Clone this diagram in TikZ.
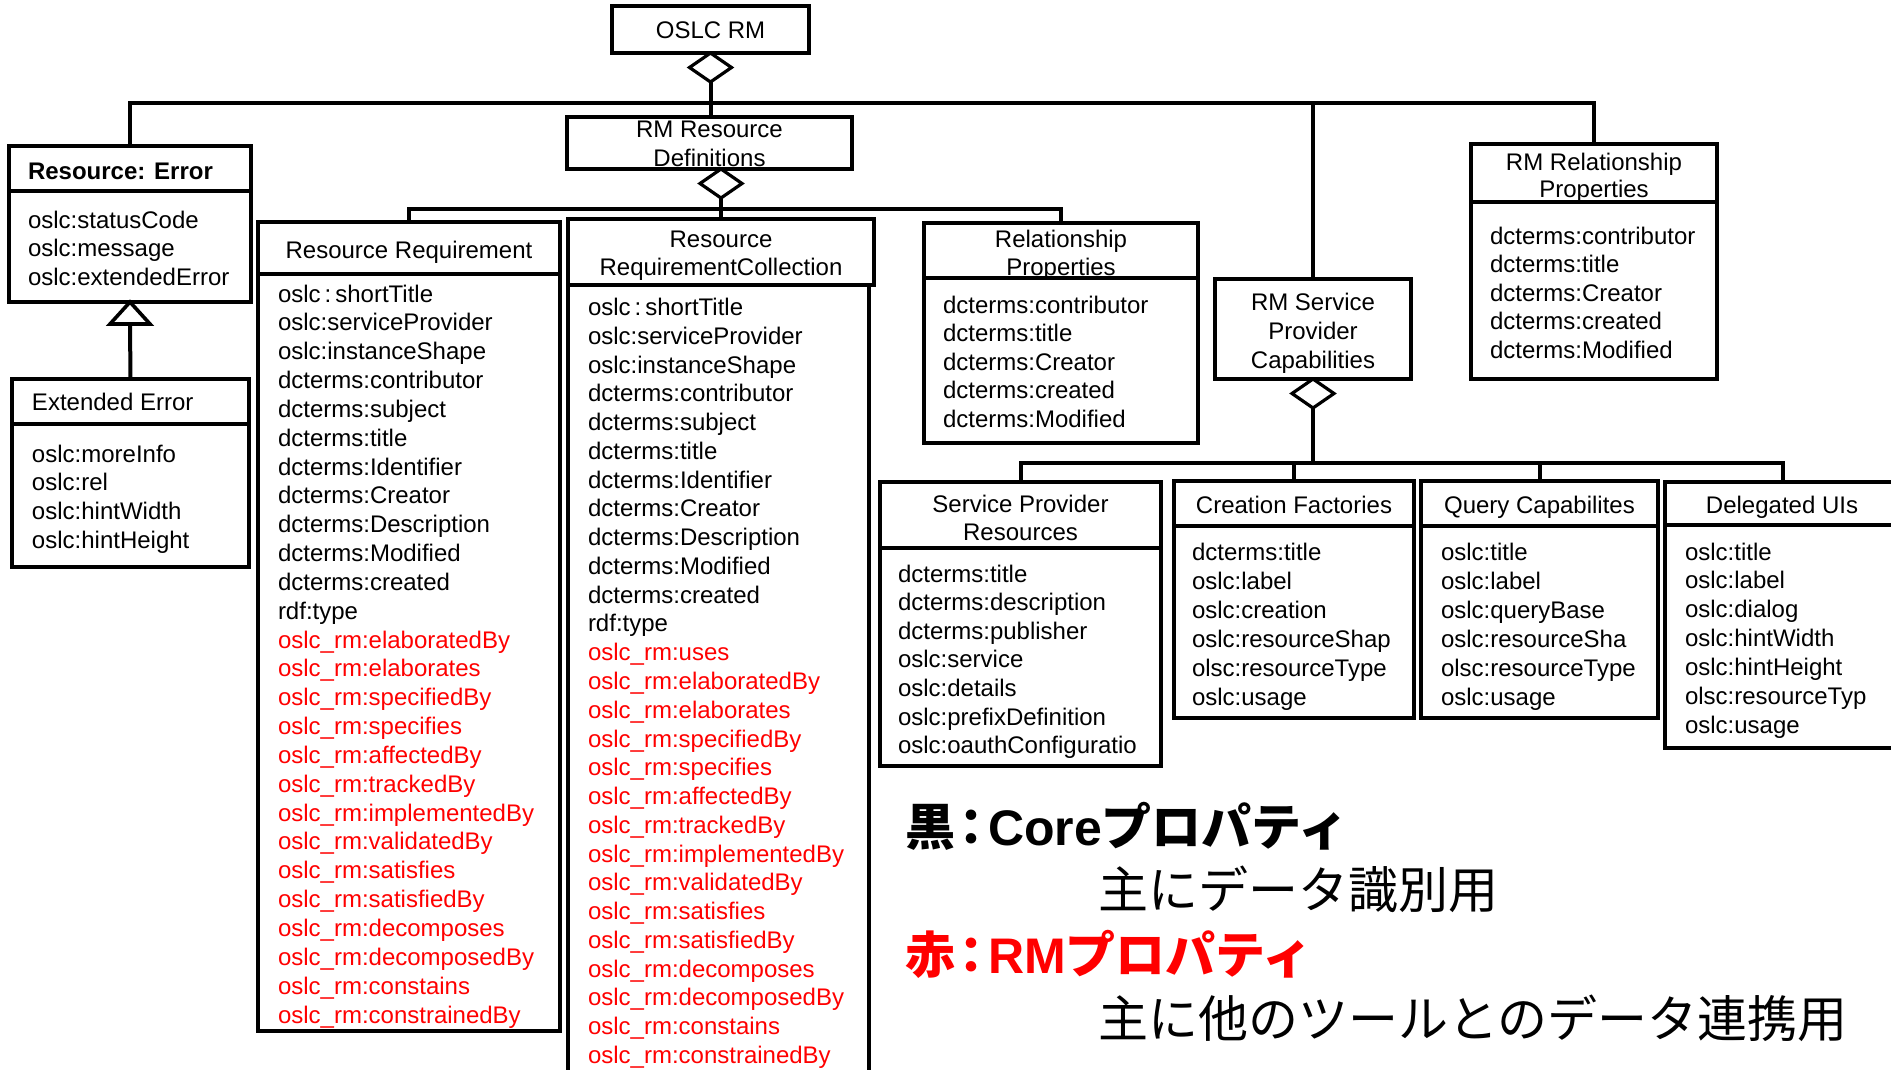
\documentclass[tikz,border=0pt]{standalone}
\usepackage{fontspec}
\setmainfont{Liberation Sans}
\newfontfamily\cjk{Noto Sans CJK JP}
\newfontfamily\cjkp{Noto Sans CJK JP}[RawFeature=+palt]
\usetikzlibrary{shapes.geometric,fit,calc}
\begin{document}
\begin{tikzpicture}[x=0.5pt,y=-0.5pt,
  box/.style={draw, line width=1.8pt, inner sep=0pt, outer sep=0pt, fill=white},
  div/.style={line width=1.8pt},
  conn/.style={line width=2pt},
  diam/.style={draw, diamond, line width=1.6pt, fill=white, minimum width=21pt, minimum height=14.5pt, inner sep=0pt, outer sep=0pt},
  item/.style={anchor=base west, inner sep=0pt, outer sep=0pt, font=\fontsize{12}{14.5}\selectfont},
  ttl/.style={anchor=base, inner sep=0pt, outer sep=0pt, font=\fontsize{12}{14.5}\selectfont},
  rmitem/.style={item, text=red},
  leg/.style={anchor=base west, inner sep=0pt, outer sep=0pt, font=\fontsize{25}{30}\selectfont},
]
\useasboundingbox (0,0) rectangle (1891,1070);
\clip (0,0) rectangle (1891,1070);
\fill[white] (0,0) rectangle (1891,1070);

% ---------- boxes ----------
\node[box, fit={(612,6)(809,53)}] (oslc) {};
\node[box, fit={(9,146)(251,302)}] (err) {};
\node[box, fit={(12,379)(249,567)}] (ext) {};
\node[box, fit={(567,117)(852,169)}] (rmrd) {};
\node[box, fit={(258,222)(560,1031)}] (rr) {};
\node[box, fit={(568,285)(869,1100)}] (rrcb) {};
\node[box, fit={(568,219)(874,285)}] (rrc) {};
\node[box, fit={(924,223)(1198,443)}] (relp) {};
\node[box, fit={(1215,279)(1411,379)}] (spc) {};
\node[box, fit={(1471,144)(1717,379)}] (rmrp) {};
\node[box, fit={(880,482)(1161,766)}] (spr) {};
\node[box, fit={(1174,481)(1414,718)}] (cf) {};
\node[box, fit={(1421,481)(1658,718)}] (qc) {};
\node[box, fit={(1665,482)(1900,748)}] (dui) {};

% dividers
\draw[div] (err.west |- 0,191) -- (err.east |- 0,191);
\draw[div] (ext.west |- 0,424) -- (ext.east |- 0,424);
\draw[div] (rr.west |- 0,274) -- (rr.east |- 0,274);
\draw[div] (relp.west |- 0,278) -- (relp.east |- 0,278);
\draw[div] (rmrp.west |- 0,202) -- (rmrp.east |- 0,202);
\draw[div] (spr.west |- 0,548) -- (spr.east |- 0,548);
\draw[div] (cf.west |- 0,526) -- (cf.east |- 0,526);
\draw[div] (qc.west |- 0,526) -- (qc.east |- 0,526);
\draw[div] (dui.west |- 0,525) -- (dui.east |- 0,525);

% ---------- diamonds ----------
\node[diam, anchor=north] (d1) at (oslc.south) {};
\node[diam, anchor=north] (d2) at (rmrd.south -| rrc.north) {};
\node[diam, anchor=north] (d3) at (spc.south) {};

% ---------- connectors ----------
\coordinate (b1) at (d1.south |- 0,103);
\draw[conn] (d1.south) -- (d1.south |- rmrd.north);
\draw[conn] (err.north) |- (b1) -| (rmrp.north);
\draw[conn] (b1 -| spc.north) -- (spc.north);

\coordinate (b2) at (d2.south |- 0,209);
\draw[conn] (d2.south) -- (rrc.north);
\draw[conn] (rr.north) |- (b2) -| (relp.north);

\coordinate (b3) at (d3.south |- 0,463);
\draw[conn] (d3.south) -- (b3);
\draw[conn] (spr.north) |- (b3) -| (dui.north);
\draw[conn] (cf.north) -- (cf.north |- b3);
\draw[conn] (qc.north) -- (qc.north |- b3);

% generalization
\coordinate (tb) at ($(err.south)+(0,22)$);
\draw[conn] (tb) -- (ext.north);
\draw[line width=1.8pt, fill=white] (err.south) -- ++(20,22) -- ++(-40,0) -- cycle;

% ---------- texts ----------
\node[ttl] (oslc-t) at (710.5,39) {OSLC RM};

\node[item, font=\fontsize{12}{14.5}\selectfont\bfseries] (err-t) at (28,179) {Resource: Error};
\foreach \t [count=\i] in {oslc:statusCode, oslc:message, oslc:extendedError}
  \node[item] (err-\i) at (28, {228+28.5*(\i-1)}) {\t};

\node[item] (ext-t) at (32,410) {Extended Error};
\foreach \t [count=\i] in {oslc:moreInfo, oslc:rel, oslc:hintWidth, oslc:hintHeight}
  \node[item] (ext-\i) at (32, {462+28.7*(\i-1)}) {\t};

\node[ttl] (rmrd-t1) at (709.5,138) {RM Resource};
\node[ttl] (rmrd-t2) at (709.5,167) {Definitions};

\node[ttl] (rr-t) at (409,258) {Resource Requirement};
\foreach \t [count=\i] in {{oslc\,:\,shortTitle}, oslc:serviceProvider, oslc:instanceShape, dcterms:contributor, dcterms:subject, dcterms:title, dcterms:Identifier, dcterms:Creator, dcterms:Description, dcterms:Modified, dcterms:created, rdf:type}
  \node[item] (rr-\i) at (278, {302+28.84*(\i-1)}) {\t};
\foreach \t [count=\i from 13] in {oslc\_rm:elaboratedBy, oslc\_rm:elaborates, oslc\_rm:specifiedBy, oslc\_rm:specifies, oslc\_rm:affectedBy, oslc\_rm:trackedBy, oslc\_rm:implementedBy, oslc\_rm:validatedBy, oslc\_rm:satisfies, oslc\_rm:satisfiedBy, oslc\_rm:decomposes, oslc\_rm:decomposedBy, oslc\_rm:constains, oslc\_rm:constrainedBy}
  \node[rmitem] (rr-\i) at (278, {302+28.84*(\i-1)}) {\t};

\node[ttl] (rrc-t1) at (721,247) {Resource};
\node[ttl] (rrc-t2) at (721,275) {RequirementCollection};
\foreach \t [count=\i] in {{oslc\,:\,shortTitle}, oslc:serviceProvider, oslc:instanceShape, dcterms:contributor, dcterms:subject, dcterms:title, dcterms:Identifier, dcterms:Creator, dcterms:Description, dcterms:Modified, dcterms:created, rdf:type}
  \node[item] (rrc-\i) at (588, {315.5+28.77*(\i-1)}) {\t};
\foreach \t [count=\i from 13] in {oslc\_rm:uses, oslc\_rm:elaboratedBy, oslc\_rm:elaborates, oslc\_rm:specifiedBy, oslc\_rm:specifies, oslc\_rm:affectedBy, oslc\_rm:trackedBy, oslc\_rm:implementedBy, oslc\_rm:validatedBy, oslc\_rm:satisfies, oslc\_rm:satisfiedBy, oslc\_rm:decomposes, oslc\_rm:decomposedBy, oslc\_rm:constains, oslc\_rm:constrainedBy}
  \node[rmitem] (rrc-\i) at (588, {315.5+28.77*(\i-1)}) {\t};

\node[ttl] (relp-t1) at (1061,247) {Relationship};
\node[ttl] (relp-t2) at (1061,275) {Properties};
\foreach \t [count=\i] in {dcterms:contributor, dcterms:title, dcterms:Creator, dcterms:created, dcterms:Modified}
  \node[item] (relp-\i) at (943, {313+28.6*(\i-1)}) {\t};

\node[ttl] (spc-t1) at (1313,310) {RM Service};
\node[ttl] (spc-t2) at (1313,339) {Provider};
\node[ttl] (spc-t3) at (1313,368) {Capabilities};

\node[ttl] (rmrp-t1) at (1594,170) {RM Relationship};
\node[ttl] (rmrp-t2) at (1594,198) {Properties};
\foreach \t [count=\i] in {dcterms:contributor, dcterms:title, dcterms:Creator, dcterms:created, dcterms:Modified}
  \node[item] (rmrp-\i) at (1490, {244+28.5*(\i-1)}) {\t};

\node[ttl] (spr-t1) at (1020.5,512) {Service Provider};
\node[ttl] (spr-t2) at (1020.5,540) {Resources};
\foreach \t [count=\i] in {dcterms:title, dcterms:description, dcterms:publisher, oslc:service, oslc:details, oslc:prefixDefinition, oslc:oauthConfiguratio}
  \node[item] (spr-\i) at (898, {582+28.6*(\i-1)}) {\t};

\node[ttl] (cf-t) at (1294,513) {Creation Factories};
\foreach \t [count=\i] in {dcterms:title, oslc:label, oslc:creation, oslc:resourceShap, olsc:resourceType, oslc:usage}
  \node[item] (cf-\i) at (1192, {560+29*(\i-1)}) {\t};

\node[ttl] (qc-t) at (1539.5,513) {Query Capabilites};
\foreach \t [count=\i] in {oslc:title, oslc:label, oslc:queryBase, oslc:resourceSha, olsc:resourceType, oslc:usage}
  \node[item] (qc-\i) at (1441, {560+29*(\i-1)}) {\t};

\node[ttl] (dui-t) at (1782,513) {Delegated UIs};
\foreach \t [count=\i] in {oslc:title, oslc:label, oslc:dialog, oslc:hintWidth, oslc:hintHeight, olsc:resourceTyp, oslc:usage}
  \node[item] (dui-\i) at (1685, {560+28.9*(\i-1)}) {\t};

% ---------- legend ----------
\node[leg, font=\fontsize{25}{30}\selectfont\bfseries] (leg1) at (905,845) {{\cjk 黒}{\cjkp\kern0.08em：\kern0.08em}Core{\cjk プロパティ}};
\node[leg] (leg2) at (1098,908) {\cjk 主にデータ識別用};
\node[leg, text=red, font=\fontsize{25}{30}\selectfont\bfseries] (leg3) at (905,973) {{\cjk 赤}{\cjkp\kern0.08em：\kern0.08em}RM{\cjk プロパティ}};
\node[leg] (leg4) at (1098,1037) {\cjk 主に他のツールとのデータ連携用};
\end{tikzpicture}
\end{document}
